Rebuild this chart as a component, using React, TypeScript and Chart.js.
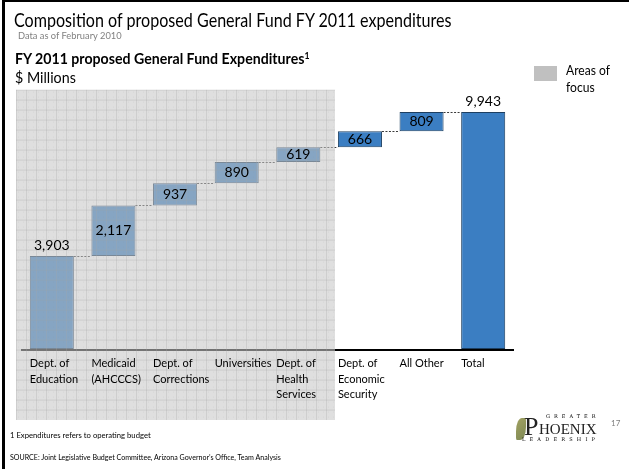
import React, { useEffect, useRef } from "react";
import { Chart, registerables } from "chart.js";

Chart.register(...registerables);

const categories: string[][] = [
  ["Dept. of", "Education"],
  ["Medicaid", "(AHCCCS)"],
  ["Dept. of", "Corrections"],
  ["Universities"],
  ["Dept. of", "Health", "Services"],
  ["Dept. of", "Economic", "Security"],
  ["All Other"],
  ["Total"],
];
const amounts: number[] = [3903, 2117, 937, 890, 619, 666, 809];
const totalAmount = 9943;
const focusCount = 5; // first five categories are "Areas of focus"

const FONT = "Lato, 'Open Sans', sans-serif";

export default function App() {
  const ref = useRef<HTMLCanvasElement | null>(null);

  useEffect(() => {
    const canvas = ref.current;
    if (!canvas) return;

    const starts: number[] = [];
    const ends: number[] = [];
    let acc = 0;
    amounts.forEach((v) => {
      starts.push(acc);
      acc += v;
      ends.push(acc);
    });
    const floating: [number, number][] = amounts.map((v, i) => [starts[i], ends[i]]);
    floating.push([0, totalAmount]);
    const values = [...amounts, totalAmount];
    const levels = [...ends, totalAmount];

    const waterfallPlugin = {
      id: "waterfall",
      afterDatasetsDraw(chart: any) {
        const { ctx, chartArea, scales } = chart;
        const meta = chart.getDatasetMeta(0);
        const els = meta.data;
        // connectors
        ctx.save();
        ctx.strokeStyle = "#3a3a3a";
        ctx.lineWidth = 1;
        ctx.setLineDash([2, 1.5]);
        for (let i = 0; i < els.length - 1; i++) {
          const a = els[i];
          const b = els[i + 1];
          const y = Math.round(scales.y.getPixelForValue(levels[i])) + 0.5;
          ctx.beginPath();
          ctx.moveTo(a.x + a.width / 2, y);
          ctx.lineTo(b.x - b.width / 2, y);
          ctx.stroke();
        }
        ctx.restore();
        // axis line
        ctx.save();
        ctx.strokeStyle = "#000";
        ctx.lineWidth = 2;
        ctx.beginPath();
        ctx.moveTo(chartArea.left, chartArea.bottom + 1);
        ctx.lineTo(chartArea.right, chartArea.bottom + 1);
        ctx.stroke();
        ctx.restore();
        // focus overlay
        const xs = scales.x;
        const left = chartArea.left - 5;
        const right = xs.getPixelForValue(focusCount - 0.5) + 6;
        const top = chartArea.top - 21;
        const bottom = chartArea.bottom + 71;
        ctx.save();
        ctx.beginPath();
        ctx.rect(left, top, right - left, bottom - top);
        ctx.clip();
        ctx.fillStyle = "rgba(196,196,196,0.55)";
        ctx.fillRect(left, top, right - left, bottom - top);
        ctx.strokeStyle = "rgba(165,165,165,0.3)";
        ctx.lineWidth = 1;
        ctx.beginPath();
        for (let x = left + 0.5; x < right; x += 10) {
          ctx.moveTo(x, top);
          ctx.lineTo(x, bottom);
        }
        for (let y = top + 0.5; y < bottom; y += 10) {
          ctx.moveTo(left, y);
          ctx.lineTo(right, y);
        }
        ctx.stroke();
        ctx.fillStyle = "rgba(150,150,150,0.12)";
        for (let x = left + 2; x < right; x += 5) {
          for (let y = top + 2; y < bottom; y += 5) {
            ctx.fillRect(x, y, 1, 1);
          }
        }
        ctx.restore();
      },
      afterDraw(chart: any) {
        const { ctx } = chart;
        const meta = chart.getDatasetMeta(0);
        ctx.save();
        ctx.font = `14px ${FONT}`;
        ctx.fillStyle = "#000";
        ctx.textAlign = "center";
        ctx.textBaseline = "middle";
        meta.data.forEach((el: any, i: number) => {
          const full = i === 0 || i === meta.data.length - 1;
          const topY = Math.min(el.y, el.base);
          const ty = full ? topY - 10 : (el.y + el.base) / 2;
          ctx.fillText(values[i].toLocaleString("en-US"), el.x, ty);
        });
        ctx.restore();
      },
    };

    const chart = new Chart(canvas, {
      type: "bar",
      data: {
        labels: categories,
        datasets: [
          {
            data: floating as any,
            backgroundColor: "#3b7ec2",
            borderColor: "#1d3f61",
            borderWidth: 1,
            borderSkipped: false,
            categoryPercentage: 1,
            barPercentage: 0.715,
          },
        ],
      },
      options: {
        responsive: false,
        animation: false,
        devicePixelRatio: 1,
        layout: { padding: { left: 21, right: 115, top: 110.6, bottom: 50 } },
        plugins: { legend: { display: false }, tooltip: { enabled: false } },
        scales: {
          x: {
            grid: { display: false, drawTicks: false, tickLength: 0 },
            border: { display: false },
            ticks: {
              z: 1,
              align: "start",
              labelOffset: -22,
              padding: 7,
              color: "#000",
              autoSkip: false,
              maxRotation: 0,
              font: { family: FONT, size: 11, lineHeight: 1.4 },
            },
            afterFit: (s: any) => {
              s.height = 70;
            },
          },
          y: {
            display: false,
            min: 0,
            max: 10000,
          },
        },
      },
      plugins: [waterfallPlugin],
    } as any);

    return () => chart.destroy();
  }, []);

  const abs = (o: React.CSSProperties): React.CSSProperties => ({
    position: "absolute",
    whiteSpace: "nowrap",
    lineHeight: 1,
    ...o,
  });

  return (
    <div
      style={{
        position: "absolute",
        left: 0,
        top: 0,
        width: 629,
        height: 469,
        background: "#fff",
        overflow: "hidden",
        fontFamily: FONT,
        color: "#000",
      }}
    >
      <canvas ref={ref} width={629} height={469} style={{ position: "absolute", left: 0, top: 0 }} />
      <div style={abs({ left: 2, top: 0, width: 3, height: 469, background: "#000" })} />
      <div style={abs({ left: 2, top: 0, width: 627, height: 2, background: "#000" })} />

      <div style={abs({ left: 14, top: 9, fontSize: 20, transform: "scaleX(0.805)", transformOrigin: "0 0" })}>
        Composition of proposed General Fund FY 2011 expenditures
      </div>
      <div style={abs({ left: 18, top: 31, fontSize: 9.3, color: "#808080" })}>Data as of February 2010</div>
      <div style={abs({ left: 15, top: 51, fontSize: 14.6, fontWeight: 700, transform: "scaleX(0.97)", transformOrigin: "0 0" })}>
        FY 2011 proposed General Fund Expenditures
        <sup style={{ fontSize: 9, verticalAlign: "5px" }}>1</sup>
      </div>
      <div style={abs({ left: 15, top: 70, fontSize: 15, transform: "scaleX(0.95)", transformOrigin: "0 0" })}>$ Millions</div>

      <div style={abs({ left: 534, top: 66, width: 23, height: 15, background: "#c0c0c0" })} />
      <div style={abs({ left: 566, top: 64, fontSize: 13, transform: "scaleX(0.93)", transformOrigin: "0 0" })}>Areas of</div>
      <div style={abs({ left: 566, top: 81, fontSize: 13, transform: "scaleX(0.93)", transformOrigin: "0 0" })}>focus</div>

      <div style={abs({ left: 10, top: 431, fontSize: 8, transform: "scaleX(0.96)", transformOrigin: "0 0" })}>
        1 Expenditures refers to operating budget
      </div>
      <div style={abs({ left: 10, top: 454, fontSize: 7.5, transform: "scaleX(0.945)", transformOrigin: "0 0" })}>
        SOURCE: Joint Legislative Budget Committee, Arizona Governor’s Office, Team Analysis
      </div>

      <div
        style={abs({
          left: 516,
          top: 418,
          width: 10,
          height: 22,
          background: "linear-gradient(135deg, #8a8a3a, #5d6b2a)",
          borderRadius: "60% 10% 60% 10%",
          opacity: 0.8,
        })}
      />
      <div style={abs({ left: 546, top: 414, fontSize: 5, letterSpacing: 4, fontFamily: "'DejaVu Serif', serif" })}>
        GREATER
      </div>
      <div
        style={abs({
          left: 524,
          top: 414,
          fontSize: 26,
          fontFamily: "'Liberation Serif', serif",
          color: "#222",
        })}
      >
        P
      </div>
      <div
        style={abs({ left: 539, top: 422, fontSize: 15, fontFamily: "'Liberation Serif', serif", color: "#222" })}
      >
        HOENIX
      </div>
      <div style={abs({ left: 522, top: 437, fontSize: 5, letterSpacing: 4.2, fontFamily: "'DejaVu Serif', serif" })}>
        LEADERSHIP
      </div>
      <div style={abs({ left: 611, top: 419, fontSize: 8, color: "#808080" })}>17</div>
    </div>
  );
}
